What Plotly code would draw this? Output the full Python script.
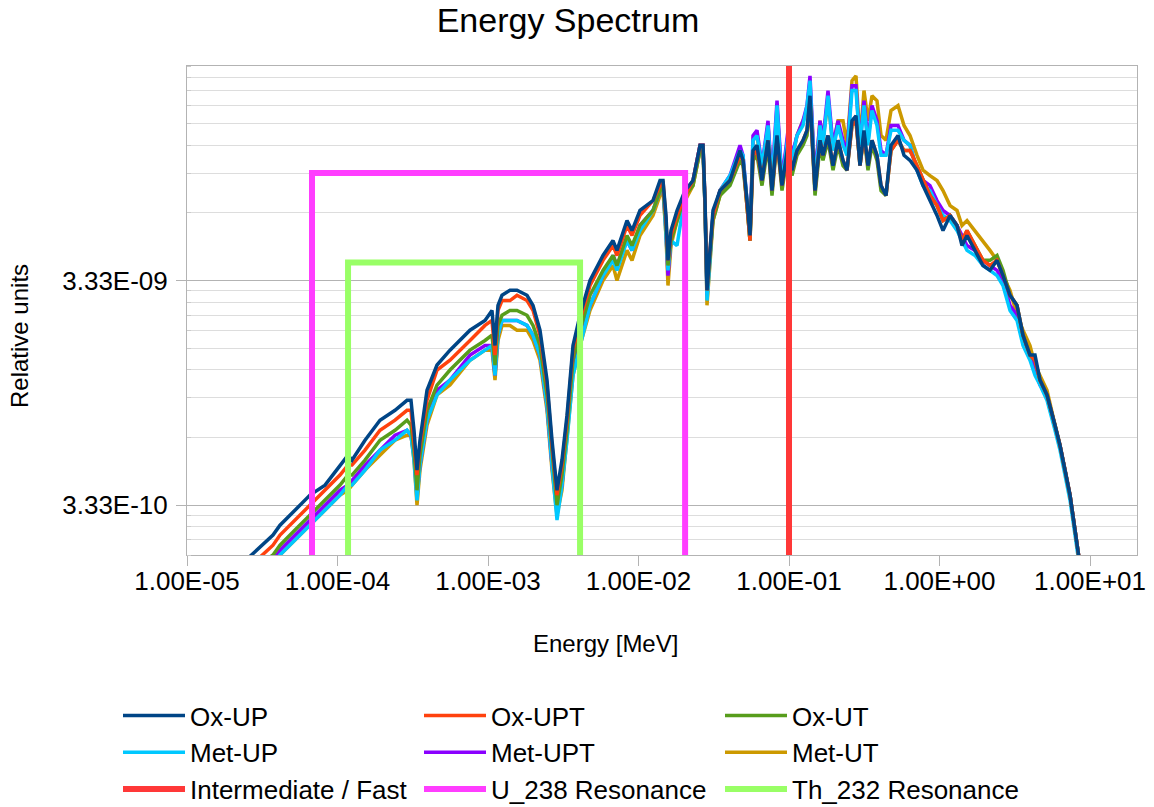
import plotly.graph_objects as go

# ---------------- data ----------------
UNIT = 1e-10  # spectrum values below are given in units of 1e-10 (relative units)

energy_mev = [
    1.931e-5, 2.703e-5, 3.727e-5, 4.150e-5, 5.220e-5, 6.567e-5, 8.260e-5, 1.039e-4, 1.175e-4, 1.248e-4,
    1.523e-4, 1.916e-4, 2.411e-4, 2.896e-4, 3.078e-4, 3.224e-4, 3.375e-4, 3.533e-4, 3.933e-4, 4.584e-4,
    5.591e-4, 7.594e-4, 9.553e-4, 1.063e-3, 1.113e-3, 1.165e-3, 1.239e-3, 1.400e-3, 1.558e-3, 1.816e-3,
    1.991e-3, 2.215e-3, 2.466e-3, 2.662e-3, 2.874e-3, 3.101e-3, 3.349e-3, 3.671e-3, 4.087e-3, 4.762e-3,
    5.809e-3, 6.770e-3, 7.196e-3, 8.387e-3, 9.055e-3, 1.023e-2, 1.248e-2, 1.390e-2, 1.455e-2, 1.523e-2,
    1.570e-2, 1.644e-2, 1.803e-2, 2.037e-2, 2.302e-2, 2.563e-2, 2.683e-2, 2.767e-2, 2.852e-2, 2.986e-2,
    3.126e-2, 3.479e-2, 4.055e-2, 4.725e-2, 4.947e-2, 5.258e-2, 5.506e-2, 5.765e-2, 6.128e-2, 6.616e-2,
    7.253e-2, 7.709e-2, 8.325e-2, 8.984e-2, 9.849e-2, 0.1047, 0.1130, 0.1239, 0.1317, 0.1379,
    0.1489, 0.1607, 0.1682, 0.1816, 0.1961, 0.2117, 0.2285, 0.2429, 0.2622, 0.2787,
    0.2963, 0.3150, 0.3349, 0.3560, 0.3843, 0.4087, 0.4411, 0.4762, 0.5301, 0.5809,
    0.6368, 0.7089, 0.7771, 0.8647, 0.9625, 1.055, 1.175, 1.307, 1.411, 1.523,
    1.722, 1.945, 2.165, 2.411, 2.642, 2.941, 3.273, 3.587, 3.993, 4.311,
    4.653, 5.180, 5.855, 6.320, 6.823, 7.365, 7.950, 8.582, 9.265,
]

ox_up = [
    1.63, 2.00, 2.45, 2.71, 3.16, 3.69, 4.09, 5.02, 5.56, 5.28,
    6.48, 7.95, 8.80, 9.75, 9.75, 7.17, 4.77, 6.48, 10.8, 14.0,
    16.3, 20.0, 22.1, 24.5, 17.1, 25.8, 28.6, 30.1, 30.1, 28.6,
    25.8, 20.0, 12.0, 6.48, 3.88, 5.28, 8.37, 17.1, 23.3, 33.3,
    43.0, 50.1, 45.3, 61.5, 55.5, 68.2, 75.5, 92.7, 92.7, 64.8,
    40.9, 55.5, 68.2, 83.6, 92.7, 133, 133, 75.5, 30.1, 45.3,
    68.2, 83.6, 92.7, 126, 114, 75.5, 52.8, 126, 133, 92.7,
    140, 83.6, 147, 88.0, 133, 103, 126, 140, 155, 221,
    83.6, 140, 120, 147, 108, 140, 114, 103, 171, 180,
    108, 155, 108, 140, 120, 88.0, 79.5, 133, 147, 120,
    114, 103, 88.0, 75.5, 64.8, 55.5, 64.8, 58.5, 47.6, 52.8,
    45.3, 38.8, 36.9, 40.9, 35.0, 28.6, 25.8, 19.0, 15.5, 15.5,
    12.0, 10.3, 7.55, 6.15, 4.77, 3.69, 2.58, 1.80, 1.26,
]

ox_upt = [
    1.47, 1.80, 2.21, 2.45, 2.86, 3.33, 3.88, 4.53, 5.02, 5.02,
    5.85, 7.17, 7.95, 8.80, 8.80, 6.48, 4.53, 6.15, 9.75, 13.3,
    14.7, 18.0, 21.0, 22.1, 15.5, 24.5, 27.1, 27.1, 28.6, 27.1,
    24.5, 19.0, 11.4, 6.15, 3.69, 5.02, 7.95, 16.3, 22.1, 31.6,
    40.9, 47.6, 43.0, 58.5, 52.8, 64.8, 75.5, 88.0, 92.7, 61.5,
    40.9, 52.8, 64.8, 79.5, 92.7, 133, 133, 75.5, 30.1, 45.3,
    64.8, 83.6, 92.7, 120, 114, 71.7, 50.1, 120, 126, 92.7,
    140, 83.6, 140, 88.0, 126, 103, 126, 140, 155, 210,
    83.6, 140, 120, 147, 108, 140, 114, 103, 163, 171,
    108, 147, 108, 140, 120, 88.0, 79.5, 126, 140, 126,
    126, 108, 92.7, 79.5, 71.7, 61.5, 64.8, 58.5, 50.1, 55.5,
    47.6, 40.9, 38.8, 40.9, 35.0, 28.6, 25.8, 19.0, 15.5, 14.7,
    12.0, 10.3, 7.55, 6.15, 4.77, 3.69, 2.58, 1.80, 1.26,
]

ox_ut = [
    1.40, 1.71, 2.00, 2.21, 2.58, 3.01, 3.50, 4.09, 4.53, 4.53,
    5.28, 6.48, 7.17, 7.95, 7.55, 5.85, 3.88, 5.56, 8.80, 11.4,
    13.3, 16.3, 18.0, 19.0, 14.0, 21.0, 23.3, 24.5, 24.5, 23.3,
    21.0, 17.1, 10.3, 5.56, 3.33, 4.53, 7.17, 14.7, 20.0, 28.6,
    36.9, 43.0, 38.8, 52.8, 47.6, 58.5, 68.2, 83.6, 88.0, 58.5,
    38.8, 50.1, 61.5, 79.5, 88.0, 126, 126, 71.7, 30.1, 43.0,
    61.5, 79.5, 88.0, 114, 108, 71.7, 50.1, 114, 120, 88.0,
    133, 79.5, 140, 83.6, 126, 97.5, 120, 133, 147, 210,
    79.5, 133, 114, 140, 103, 133, 108, 103, 163, 171,
    108, 147, 103, 133, 114, 83.6, 79.5, 126, 140, 126,
    126, 108, 92.7, 79.5, 71.7, 61.5, 64.8, 58.5, 50.1, 55.5,
    47.6, 40.9, 40.9, 43.0, 36.9, 28.6, 25.8, 19.0, 15.5, 14.7,
    12.0, 10.3, 7.55, 6.15, 4.77, 3.69, 2.58, 1.80, 1.26,
]

met_up = [
    1.26, 1.55, 1.80, 2.00, 2.33, 2.71, 3.16, 3.69, 4.09, 4.09,
    4.77, 5.85, 6.48, 7.17, 6.82, 5.28, 3.50, 5.02, 7.95, 10.3,
    12.0, 14.7, 16.3, 17.1, 12.6, 19.0, 22.1, 22.1, 22.1, 21.0,
    19.0, 15.5, 9.27, 5.02, 2.86, 4.09, 6.48, 12.6, 17.1, 25.8,
    35.0, 40.9, 36.9, 50.1, 45.3, 55.5, 68.2, 83.6, 88.0, 55.5,
    36.9, 50.1, 47.6, 79.5, 92.7, 126, 133, 71.7, 27.1, 40.9,
    64.8, 83.6, 97.5, 126, 120, 75.5, 50.1, 140, 147, 108,
    163, 88.0, 200, 88.0, 147, 114, 147, 163, 200, 258,
    88.0, 163, 133, 221, 126, 163, 133, 120, 233, 233,
    133, 200, 133, 190, 163, 120, 120, 155, 155, 140,
    133, 103, 88.0, 83.6, 71.7, 64.8, 61.5, 55.5, 50.1, 45.3,
    43.0, 38.8, 36.9, 35.0, 31.6, 24.5, 22.1, 17.1, 14.7, 12.6,
    11.4, 9.75, 7.17, 5.85, 4.53, 3.50, 2.45, 1.71, 1.20,
]

met_upt = [
    1.26, 1.55, 1.90, 2.10, 2.45, 2.86, 3.33, 3.88, 4.09, 4.30,
    5.02, 5.85, 6.82, 7.17, 6.82, 5.56, 3.69, 5.02, 7.95, 10.8,
    12.0, 15.5, 17.1, 17.1, 12.6, 19.0, 22.1, 22.1, 22.1, 21.0,
    19.0, 15.5, 9.27, 5.02, 3.16, 4.09, 6.82, 13.3, 18.0, 25.8,
    35.0, 43.0, 38.8, 50.1, 45.3, 58.5, 68.2, 83.6, 88.0, 55.5,
    35.0, 50.1, 64.8, 79.5, 92.7, 133, 133, 71.7, 28.6, 43.0,
    64.8, 83.6, 97.5, 133, 120, 75.5, 52.8, 147, 155, 108,
    171, 92.7, 210, 92.7, 155, 120, 147, 171, 200, 271,
    92.7, 171, 140, 233, 133, 171, 140, 126, 245, 245,
    133, 210, 140, 200, 171, 126, 120, 163, 163, 140,
    133, 103, 92.7, 88.0, 75.5, 68.2, 64.8, 58.5, 52.8, 47.6,
    45.3, 40.9, 38.8, 36.9, 33.3, 25.8, 23.3, 18.0, 15.5, 13.3,
    11.4, 10.3, 7.55, 6.15, 4.77, 3.69, 2.58, 1.80, 1.26,
]

met_ut = [
    1.20, 1.47, 1.80, 2.00, 2.33, 2.71, 3.16, 3.69, 3.88, 4.09,
    4.77, 5.56, 6.48, 6.82, 6.82, 5.28, 3.33, 4.77, 7.55, 10.3,
    11.4, 14.7, 16.3, 16.3, 12.0, 18.0, 21.0, 21.0, 20.0, 20.0,
    18.0, 14.7, 8.80, 4.77, 3.01, 3.88, 6.48, 12.6, 17.1, 24.5,
    33.3, 38.8, 33.3, 45.3, 40.9, 52.8, 64.8, 79.5, 83.6, 52.8,
    31.6, 47.6, 61.5, 75.5, 88.0, 126, 126, 71.7, 25.8, 40.9,
    61.5, 79.5, 92.7, 126, 114, 71.7, 50.1, 140, 147, 103,
    163, 88.0, 190, 92.7, 147, 114, 147, 171, 190, 245,
    92.7, 171, 140, 210, 133, 171, 171, 133, 258, 271,
    140, 233, 171, 221, 210, 147, 140, 190, 200, 163,
    147, 120, 103, 97.5, 92.7, 83.6, 71.7, 68.2, 58.5, 61.5,
    55.5, 50.1, 45.3, 40.9, 35.0, 30.1, 23.3, 20.0, 17.1, 14.0,
    12.6, 10.8, 7.55, 6.15, 4.77, 3.69, 2.58, 1.80, 1.26,
]

series_names = ["Ox-UP", "Ox-UPT", "Ox-UT", "Met-UP", "Met-UPT", "Met-UT"]
series_values = [ox_up, ox_upt, ox_ut, met_up, met_upt, met_ut]

# Region markers (energy in MeV, height in relative units)
fast_energy = [0.1, 0.1]
fast_height = [1e-10, 1e-7]
u238_energy = [6.77e-5, 6.77e-5, 2.04e-2, 2.04e-2]
u238_height = [1e-10, 1.0e-8, 1.0e-8, 1e-10]
th232_energy = [1.175e-4, 1.175e-4, 4.09e-3, 4.09e-3]
th232_height = [1e-10, 4.0e-9, 4.0e-9, 1e-10]

x_tick_values = [1e-5, 1e-4, 1e-3, 1e-2, 1e-1, 1e0, 1e1]
x_tick_labels = ["1.00E-05", "1.00E-04", "1.00E-03", "1.00E-02", "1.00E-01", "1.00E+00", "1.00E+01"]
y_tick_values = [3.33e-10, 3.33e-9]
y_tick_labels = ["3.33E-10", "3.33E-09"]

# ---------------- styling ----------------
series_colors = {
    "Ox-UP": "#004586", "Ox-UPT": "#ff420e", "Ox-UT": "#579d1c",
    "Met-UP": "#00c8ff", "Met-UPT": "#8a00ff", "Met-UT": "#cc9900",
}
draw_order = ["Met-UT", "Met-UPT", "Met-UP", "Ox-UT", "Ox-UPT", "Ox-UP"]
FONT = "Liberation Sans, Arial, sans-serif"

for n, v in zip(series_names, series_values):
    assert len(v) == len(energy_mev), n

fig = go.Figure()
for name in draw_order:
    vals = series_values[series_names.index(name)]
    fig.add_trace(go.Scatter(
        x=energy_mev, y=[v * UNIT for v in vals], mode="lines", name=name,
        line=dict(color=series_colors[name], width=3.5),
        legendrank=series_names.index(name) + 1,
    ))

fig.add_trace(go.Scatter(x=fast_energy, y=fast_height, mode="lines",
                         name="Intermediate / Fast", legendrank=7,
                         line=dict(color="#ff3838", width=6)))
fig.add_trace(go.Scatter(x=u238_energy, y=u238_height, mode="lines",
                         name="U_238 Resonance", legendrank=8,
                         line=dict(color="#ff3dff", width=6)))
fig.add_trace(go.Scatter(x=th232_energy, y=th232_height, mode="lines",
                         name="Th_232 Resonance", legendrank=9,
                         line=dict(color="#99ff66", width=6)))

minor_mult = [0.6, 0.7, 0.8, 0.9, 2, 3, 4, 5, 6, 7, 8, 9]
minor_vals = sorted({round(m * b, 16) for b in y_tick_values for m in minor_mult})

PLOT_L, PLOT_R, PLOT_T, PLOT_B = 187, 1137, 66, 555
PW, PH = PLOT_R - PLOT_L, PLOT_B - PLOT_T

fig.update_layout(
    width=1154, height=807,
    margin=dict(l=PLOT_L, r=1154 - PLOT_R, t=PLOT_T, b=807 - PLOT_B, autoexpand=False),
    paper_bgcolor="white", plot_bgcolor="white",
    font=dict(family=FONT, color="#000000", size=24),
    title=dict(text="Energy Spectrum", font=dict(size=34, family=FONT, color="#000000"),
               x=568 / 1154, xref="container", xanchor="center",
               y=1 - 20 / 807, yref="container", yanchor="middle"),
    showlegend=True,
    legend=dict(orientation="h", font=dict(size=26, family=FONT, color="#000000"),
                x=(118 - PLOT_L) / PW, xanchor="left",
                y=(PLOT_B - 692) / PH, yanchor="top",
                entrywidth=224, entrywidthmode="pixels", itemwidth=62,
                bgcolor="rgba(0,0,0,0)", traceorder="normal"),
    annotations=[
        dict(text="Energy [MeV]", xref="paper", yref="paper",
             x=(605 - PLOT_L) / PW, y=(PLOT_B - 643) / PH,
             xanchor="center", yanchor="middle", showarrow=False,
             font=dict(size=24, family=FONT, color="#000000")),
        dict(text="Relative units", xref="paper", yref="paper",
             x=(20 - PLOT_L) / PW, y=(PLOT_B - 336) / PH, textangle=-90,
             xanchor="center", yanchor="middle", showarrow=False,
             font=dict(size=24, family=FONT, color="#000000")),
    ],
)

fig.update_xaxes(
    type="log", range=[-5, 1.3123],
    tickvals=x_tick_values, ticktext=x_tick_labels,
    tickfont=dict(size=26, family=FONT, color="#000000"),
    ticks="outside", ticklen=10, tickcolor="#b3b3b3", tickwidth=1,
    ticklabelstandoff=-7,
    showgrid=False, zeroline=False,
    showline=True, linecolor="#b3b3b3", linewidth=1, mirror=True,
)
fig.update_yaxes(
    type="log", range=[-9.6994, -7.5233],
    tickvals=y_tick_values, ticktext=y_tick_labels,
    tickfont=dict(size=26, family=FONT, color="#000000"),
    ticks="outside", ticklen=10, tickcolor="#b3b3b3", tickwidth=1,
    ticklabelstandoff=3,
    showgrid=True, gridcolor="#b3b3b3", gridwidth=1, zeroline=False,
    showline=True, linecolor="#b3b3b3", linewidth=1, mirror=True,
    minor=dict(tickmode="array", tickvals=minor_vals, showgrid=True,
               gridcolor="#dddddd", gridwidth=1, ticks="inside", ticklen=4,
               tickcolor="#cccccc"),
)

fig.write_html("out.html", config={"displayModeBar": False},
               post_script="document.body.style.margin='0';document.body.style.overflow='hidden';")
